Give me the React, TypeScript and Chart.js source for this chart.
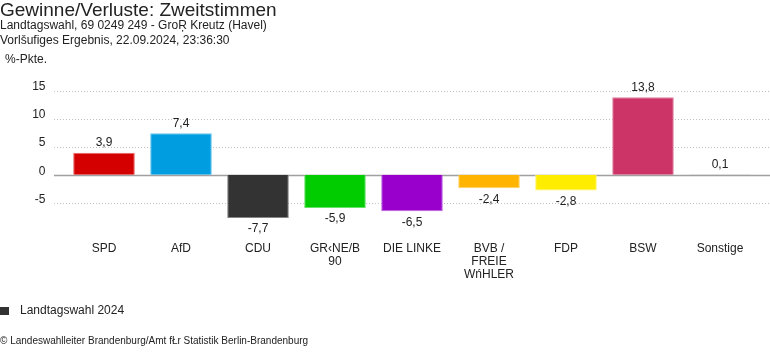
import React, { useEffect, useRef } from "react";
import { Chart, registerables } from "chart.js";

Chart.register(...registerables);

const categories: string[][] = [
  ["SPD"],
  ["AfD"],
  ["CDU"],
  ["GR‹NE/B", "90"],
  ["DIE LINKE"],
  ["BVB /", "FREIE", "WńHLER"],
  ["FDP"],
  ["BSW"],
  ["Sonstige"],
];
const values: number[] = [3.9, 7.4, -7.7, -5.9, -6.5, -2.4, -2.8, 13.8, 0.1];
const barColors: string[] = [
  "#d40000",
  "#009ee0",
  "#333333",
  "#00cc00",
  "#9900cc",
  "#ffb400",
  "#ffed00",
  "#cc3366",
  "#aaaaaa",
];
const borderColors: string[] = [
  "#e66666",
  "#66c5ec",
  "#858585",
  "#66e066",
  "#c266e0",
  "#ffd266",
  "#fff466",
  "#e085a3",
  "#cccccc",
];
const yTicks: number[] = [-5, 0, 5, 10, 15];
const seriesName = "Landtagswahl 2024";
const titleText = "Gewinne/Verluste: Zweitstimmen";
const subtitleLines: string[] = [
  "Landtagswahl, 69 0249 249 - GroŖ Kreutz (Havel)",
  "Vorlšufiges Ergebnis, 22.09.2024, 23:36:30",
];
const unitLabel = "%-Pkte.";
const footerText = "© Landeswahlleiter Brandenburg/Amt fŁr Statistik Berlin-Brandenburg";

const FONT = "Arial, 'Liberation Sans', sans-serif";
const fmt = (v: number) => v.toFixed(1).replace(".", ",");

const decorPlugin = {
  id: "decor",
  beforeDatasetsDraw(chart: any) {
    const { ctx } = chart;
    const y = chart.scales.y;
    ctx.save();
    yTicks.forEach((t) => {
      const py = Math.round(y.getPixelForValue(t)) + 0.5;
      ctx.beginPath();
      if (t === 0) {
        ctx.setLineDash([]);
        ctx.strokeStyle = "#a0a0a0";
        ctx.lineWidth = 1.5;
      } else {
        ctx.setLineDash([1, 2]);
        ctx.strokeStyle = "#c0c0c0";
        ctx.lineWidth = 1;
      }
      ctx.moveTo(54, py);
      ctx.lineTo(chart.width, py);
      ctx.stroke();
    });
    ctx.restore();
  },
  afterDraw(chart: any) {
    const { ctx } = chart;
    ctx.save();
    ctx.fillStyle = "#222";
    ctx.textAlign = "left";
    ctx.textBaseline = "middle";
    ctx.font = `19px ${FONT}`;
    ctx.fillText(titleText, 0, 11);
    ctx.font = `12px ${FONT}`;
    ctx.fillText(subtitleLines[0], 0, 26);
    ctx.fillText(subtitleLines[1], 0, 41);
    ctx.font = `12px ${FONT}`;
    ctx.fillText(unitLabel, 5, 60);
    // legend
    ctx.fillStyle = "#333333";
    ctx.fillRect(0, 307, 9, 8);
    ctx.fillStyle = "#222";
    ctx.font = `12px ${FONT}`;
    ctx.fillText(seriesName, 20, 311);
    ctx.font = `10px ${FONT}`;
    ctx.fillText(footerText, 0, 341);

    // data labels
    const meta = chart.getDatasetMeta(0);
    ctx.font = `12px ${FONT}`;
    ctx.textAlign = "center";
    ctx.fillStyle = "#222";
    meta.data.forEach((bar: any, i: number) => {
      const v = values[i];
      const ty = v >= 0 ? bar.y - 10 : bar.y + 11;
      ctx.fillText(fmt(v), bar.x, ty);
    });
    ctx.restore();
  },
};

export default function App() {
  const ref = useRef<HTMLCanvasElement | null>(null);
  useEffect(() => {
    document.body.style.margin = "0";
    const chart = new Chart(ref.current as HTMLCanvasElement, {
      type: "bar",
      data: {
        labels: categories,
        datasets: [
          {
            label: seriesName,
            data: values,
            backgroundColor: barColors,
            borderColor: borderColors,
            borderWidth: 1,
            barPercentage: 0.8,
            categoryPercentage: 1,
          },
        ],
      },
      options: {
        animation: false,
        responsive: false,
        layout: { padding: { left: 0, right: 11.5, top: 90.5, bottom: 52.3 } },
        plugins: {
          legend: { display: false },
          tooltip: { enabled: false },
          title: { display: false },
        },
        scales: {
          x: {
            grid: { display: false },
            border: { display: false },
            afterFit: (s: any) => {
              s.height = 80;
            },
            ticks: {
              padding: 14.3,
              color: "#222",
              font: { family: FONT, size: 12, lineHeight: 1.1 },
              maxRotation: 0,
              autoSkip: false,
            },
          },
          y: {
            min: -8,
            max: 15,
            grid: { display: false },
            border: { display: false },
            afterFit: (s: any) => {
              s.width = 65.5;
            },
            afterBuildTicks: (s: any) => {
              s.ticks = yTicks.map((v) => ({ value: v }));
            },
            ticks: {
              padding: 12,
              labelOffset: -3.5,
              color: "#222",
              font: { family: FONT, size: 12 },
              callback: (v: any) => String(v),
            },
          },
        },
      },
      plugins: [decorPlugin],
    });
    return () => chart.destroy();
  }, []);
  return (
    <div style={{ width: 770, height: 352 }}>
      <canvas ref={ref} width={770} height={352} style={{ display: "block" }} />
    </div>
  );
}
